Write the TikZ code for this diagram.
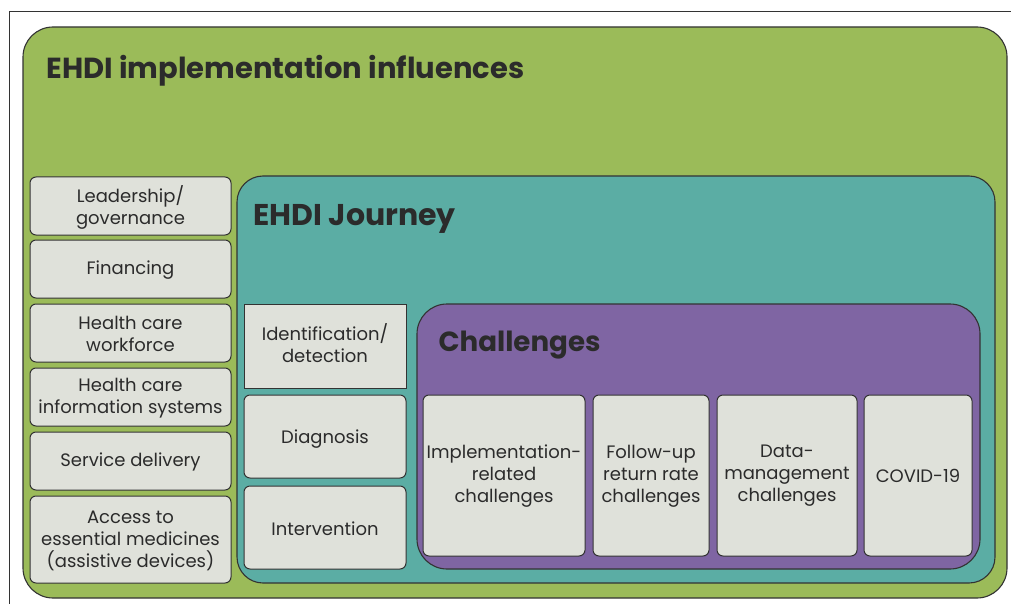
\documentclass[tikz,border=0pt]{standalone}
\usepackage{fontspec}
\setmainfont{Poppins}
\definecolor{ehgreen}{HTML}{9BBB59}
\definecolor{ehteal}{HTML}{5BADA4}
\definecolor{ehpurple}{HTML}{7F65A3}
\definecolor{ehgray}{HTML}{DFE1DA}
\definecolor{ehtext}{HTML}{2B2B2B}
\definecolor{ehline}{HTML}{333333}
\begin{document}
\begin{tikzpicture}[x=1pt,y=-1pt,
  panel/.style={draw=ehline,line width=1.1pt},
  item/.style={draw=ehline,line width=1pt,fill=ehgray,rounded corners=6pt},
  itemtxt/.style={text=ehtext,font=\fontsize{18}{22}\selectfont,align=center},
  title/.style={text=ehtext,anchor=west}]
\useasboundingbox (0,0) rectangle (1011,604);
\fill[white] (0,0) rectangle (1011,604);
\draw[draw=ehline,line width=1pt] (9,620) -- (9,12) -- (1030,12);
% panels
\draw[panel,fill=ehgreen,rounded corners=30pt] (23,27) rectangle (1007,598);
\draw[panel,fill=ehteal,rounded corners=26pt] (237,176) rectangle (995,583);
\draw[panel,fill=ehpurple,rounded corners=30pt] (417,304) rectangle (980,569);
\node[title,font=\fontsize{29}{34}\selectfont\bfseries] (t1) at (43,71) {EHDI implementation influences};
\node[title,font=\fontsize{30}{34}\selectfont\bfseries] (t2) at (250,219) {EHDI Journey};
\node[title,font=\fontsize{27.7}{32}\selectfont\bfseries] (t3) at (435,345) {Challenges};
% left column
\foreach \n/\a/\b/\t in {l1/177/235/{Leadership/\\governance},
  l2/240/298/{Financing},
  l3/304/362/{Health care\\workforce},
  l4/368/426/{Health care\\information systems},
  l5/432/490/{Service delivery},
  l6/496/583/{Access to\\essential medicines\\(assistive devices)}}{
  \draw[item] (30,\a) rectangle (231,\b);
  \node[itemtxt] (\n) at (130.5,{(\a+\b)/2+1}) {\t};
}
% journey column
\draw[item,rounded corners=0pt] (244,304) rectangle (406,388);
\node[itemtxt] (j1) at (325,343) {Identification/\\detection};
\draw[item] (244,395) rectangle (406,478);
\node[itemtxt] (j2) at (325,439) {Diagnosis};
\draw[item] (244,486) rectangle (406,569);
\node[itemtxt] (j3) at (325,529) {Intervention};
% challenges
\foreach \n/\a/\b/\t in {c1/423/585/{Implementation-\\related\\challenges},
  c2/593/709/{Follow-up\\return rate\\challenges},
  c3/717/857/{Data-\\management\\challenges},
  c4/864/972/{COVID-19}}{
  \draw[item] (\a,395) rectangle (\b,556);
  \node[itemtxt] (\n) at ({(\a+\b)/2},476) {\t};
}
\end{tikzpicture}
\end{document}
